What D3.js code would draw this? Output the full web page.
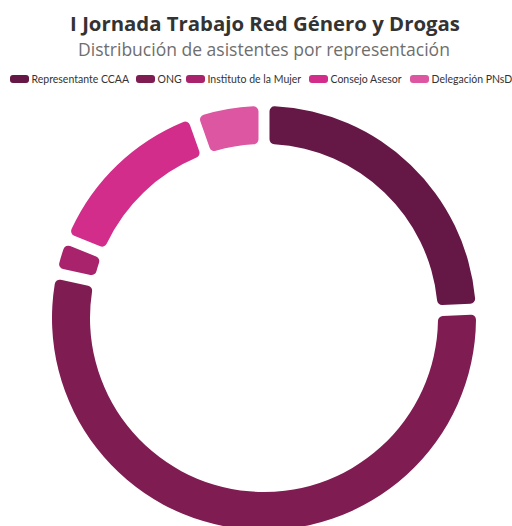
<!DOCTYPE html>
<html>
<head>
<meta charset="utf-8">
<script src="https://cdn.jsdelivr.net/npm/d3@7"></script>
<style>
  html, body { margin: 0; padding: 0; background: #fff; }
  svg { display: block; font-family: "Open Sans", Lato, sans-serif; }
</style>
</head>
<body>
<svg id="chart" width="512" height="526"></svg>
<script>
const categories = ["Representante CCAA", "ONG", "Instituto de la Mujer", "Consejo Asesor", "Delegación PNsD"];
const values = [9, 20, 1, 5, 2];
const colors = ["#651745", "#7f1c52", "#a8236c", "#d22d8b", "#dd56a2"];
const titleText = "I Jornada Trabajo Red Género y Drogas";
const subtitleText = "Distribución de asistentes por representación";

const svg = d3.select("#chart");

function fitText(sel, target, base) {
  const w = sel.node().getComputedTextLength();
  sel.attr("font-size", base * target / w);
}

const title = svg.append("text").attr("x", 265).attr("y", 31).attr("text-anchor", "middle")
  .attr("font-size", 20).attr("font-weight", "bold").attr("fill", "#333").text(titleText);
fitText(title, 390, 20);
const sub = svg.append("text").attr("x", 264).attr("y", 56).attr("text-anchor", "middle")
  .attr("font-size", 18).attr("fill", "#6e6e6e").text(subtitleText);
fitText(sub, 372, 18);

// legend
const legendX = [10, 136, 186, 309, 410];
const legendW = [97, 21, 87, 83, 80];
const lg = svg.append("g").attr("font-family", "Lato, sans-serif");
categories.forEach((c, i) => {
  const g = lg.append("g").attr("transform", `translate(${legendX[i]},75)`);
  g.append("rect").attr("width", 19).attr("height", 8).attr("rx", 3).attr("fill", colors[i]);
  g.append("text").attr("x", 21.5).attr("y", 8).attr("font-size", 10.5).attr("fill", "#333").text(c);
});

// donut
const cx = 264, cy = 318, R = 212, r = 174;
const pie = d3.pie().sort(null).value(d => d);
const arcs = pie(values);
const arc = d3.arc().innerRadius(r).outerRadius(R).padRadius(R).padAngle(11 / R).cornerRadius(5);
svg.append("g").attr("transform", `translate(${cx},${cy})`)
  .selectAll("path").data(arcs).join("path")
  .attr("d", arc).attr("fill", (d, i) => colors[i]);
</script>
</body>
</html>
